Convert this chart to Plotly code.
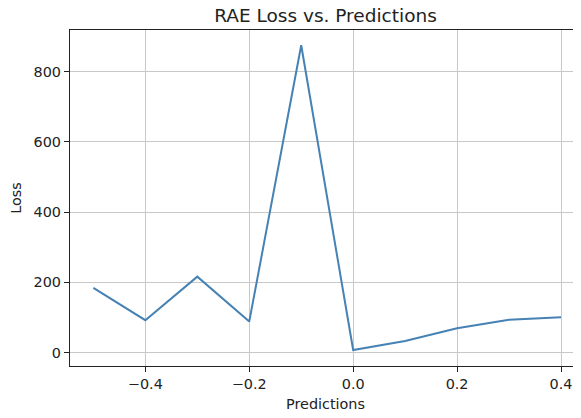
import plotly.graph_objects as go

# predictions vs RAE loss
predictions = [-0.5, -0.4, -0.3, -0.2, -0.1, 0.0, 0.1, 0.2, 0.3, 0.4]
loss = [184, 92, 216, 88, 875, 7, 33, 69, 93, 100]

x_ticks = [-0.4, -0.2, 0.0, 0.2, 0.4]
x_ticktext = ['\u22120.4', '\u22120.2', '0.0', '0.2', '0.4']
y_ticks = [0, 200, 400, 600, 800]

txt = '#222222'
font = dict(family='DejaVu Sans', size=14.4, color=txt)

fig = go.Figure()
fig.add_trace(go.Scatter(x=predictions, y=loss, mode='lines',
                         line=dict(color='#4682b4', width=2)))

# page body has an 8px margin, so the figure is sized to fit the window
fig.update_layout(
    width=573, height=410,
    margin=dict(l=62, r=0, t=22, b=52, autoexpand=False),
    paper_bgcolor='white', plot_bgcolor='white',
    font=font,
    showlegend=False,
    title=dict(text='RAE Loss vs. Predictions', x=0.5, xref='paper', xanchor='center',
               y=1 - 1 / 410, yref='container', yanchor='top',
               font=dict(family='DejaVu Sans', size=18.5, color=txt)),
)
fig.update_xaxes(range=[-0.545, 0.4385], tickvals=x_ticks, ticktext=x_ticktext,
                 showgrid=True, gridcolor='#c8c8c8', gridwidth=1.2,
                 showline=True, linecolor=txt, linewidth=1.2, mirror=True,
                 ticks='outside', ticklen=5, tickcolor=txt, zeroline=False,
                 automargin=False, tickfont=font,
                 title=dict(text='Predictions', standoff=7, font=font))
fig.update_yaxes(range=[-38.5, 918.5], tickvals=y_ticks,
                 showgrid=True, gridcolor='#c8c8c8', gridwidth=1.2,
                 showline=True, linecolor=txt, linewidth=1.2,
                 ticks='outside', ticklen=5, tickcolor=txt, zeroline=False,
                 automargin=False, tickfont=font,
                 title=dict(text='Loss', standoff=11, font=font))

fig.write_html("out.html")
